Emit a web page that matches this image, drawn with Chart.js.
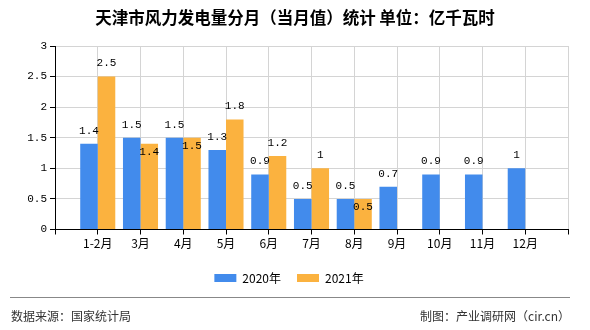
<!DOCTYPE html>
<html>
<head>
<meta charset="utf-8">
<script src="https://cdn.jsdelivr.net/npm/chart.js@4/dist/chart.umd.min.js"></script>
<style>
  html, body { margin: 0; padding: 0; background: #fff; }
  #wrap { width: 590px; height: 330px; position: relative; }
</style>
</head>
<body>
<div id="wrap"><canvas id="c" width="590" height="330"></canvas></div>
<script>
const titleText = '天津市风力发电量分月（当月值）统计 单位：亿千瓦时';
const categories = ['1-2月', '3月', '4月', '5月', '6月', '7月', '8月', '9月', '10月', '11月', '12月'];
const seriesNames = ['2020年', '2021年'];
const values2020 = [1.4, 1.5, 1.5, 1.3, 0.9, 0.5, 0.5, 0.7, 0.9, 0.9, 1];
const values2021 = [2.5, 1.4, 1.5, 1.8, 1.2, 1, 0.5, null, null, null, null];
const yTicks = [0, 0.5, 1, 1.5, 2, 2.5, 3];
const insideLabels2021 = [1, 2, 6]; // labels drawn inside the bar top (as in the reference)
const sourceText = '数据来源：国家统计局';
const creditText = '制图：产业调研网（cir.cn）';

const labels = [''].concat(categories, ['']);
const pad = arr => [null].concat(arr, [null]);

const monoFont = '"Liberation Mono", "DejaVu Sans Mono", monospace';
const cjkFont = '"Noto Sans CJK SC", "Noto Sans", sans-serif';

const decorPlugin = {
  id: 'decor',
  afterDatasetsDraw(chart) {
    const ctx = chart.ctx;
    ctx.save();
    ctx.font = '11px ' + monoFont;
    ctx.fillStyle = '#000';
    ctx.textAlign = 'center';
    ctx.textBaseline = 'middle';
    chart.data.datasets.forEach((ds, di) => {
      const meta = chart.getDatasetMeta(di);
      meta.data.forEach((el, i) => {
        const v = ds.data[i];
        if (v === null || v === undefined) return;
        const inside = di === 1 && insideLabels2021.includes(i - 1);
        const y = inside ? el.y + 8 : el.y - 13;
        ctx.fillText(String(v), el.x, y);
      });
    });
    ctx.restore();
  },
  afterDraw(chart) {
    const ctx = chart.ctx;
    ctx.save();
    ctx.font = 'bold 16.5px ' + cjkFont;
    ctx.fillStyle = '#000';
    ctx.textAlign = 'center';
    ctx.textBaseline = 'middle';
    ctx.fillText(titleText, 295, 17.5);

    ctx.strokeStyle = '#888';
    ctx.lineWidth = 1;
    ctx.beginPath();
    ctx.moveTo(10, 297.5);
    ctx.lineTo(570, 297.5);
    ctx.stroke();

    ctx.font = '12px ' + cjkFont;
    ctx.fillStyle = '#333';
    ctx.textAlign = 'left';
    ctx.fillText(sourceText, 11, 316);
    ctx.textAlign = 'right';
    ctx.fillText(creditText, 570, 316);
    ctx.restore();
  }
};

new Chart(document.getElementById('c'), {
  type: 'bar',
  data: {
    labels: labels,
    datasets: [
      { label: seriesNames[0], data: pad(values2020), backgroundColor: '#428BEC' },
      { label: seriesNames[1], data: pad(values2021), backgroundColor: '#FBB23F' }
    ]
  },
  options: {
    responsive: false,
    animation: false,
    devicePixelRatio: 1,
    layout: { padding: { left: 10, right: 22, top: 46, bottom: 36 } },
    datasets: { bar: { categoryPercentage: 0.82, barPercentage: 1 } },
    plugins: {
      title: { display: false },
      tooltip: { enabled: false },
      legend: {
        display: true,
        position: 'bottom',
        labels: {
          boxWidth: 22,
          boxHeight: 8,
          padding: 16,
          color: '#000',
          font: { size: 12, family: cjkFont }
        }
      }
    },
    scales: {
      x: {
        type: 'category',
        offset: false,
        grid: { color: '#d4d4d4', tickColor: '#000', tickLength: 5, offset: false },
        border: { color: '#000', width: 1 },
        ticks: {
          autoSkip: false,
          maxRotation: 0,
          padding: 2,
          color: '#000',
          font: { size: 12, family: cjkFont }
        },
        afterFit(s) { s.height = 26.5; }
      },
      y: {
        min: 0,
        max: 3,
        afterBuildTicks(s) { s.ticks = yTicks.map(v => ({ value: v })); },
        grid: { color: '#d4d4d4', tickColor: '#000', tickLength: 5 },
        border: { color: '#000', width: 1 },
        ticks: {
          padding: 3,
          color: '#000',
          font: { size: 11, family: monoFont },
          callback: v => String(v)
        },
        afterFit(s) { s.width = 45; }
      }
    }
  },
  plugins: [decorPlugin]
});
</script>
</body>
</html>
